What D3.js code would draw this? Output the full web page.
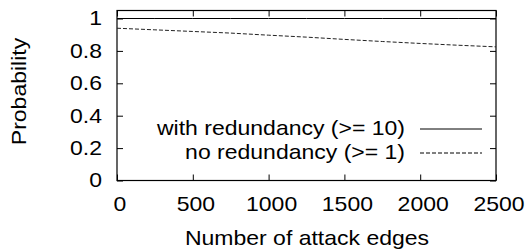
<!DOCTYPE html>
<html><head><meta charset="utf-8">
<script src="https://cdn.jsdelivr.net/npm/d3@7"></script>
<style>body{margin:0;background:#fff}svg{display:block}text{font-family:"Liberation Sans",Arial,sans-serif;fill:#000}</style>
</head><body><svg id="c" width="526" height="251"></svg>
<script>
const xValues = [0, 250, 500, 750, 1000, 1250, 1500, 1750, 2000, 2250, 2500];
const withRedundancy = [1, 1, 1, 1, 1, 1, 1, 1, 1, 1, 1];
const noRedundancy = [0.94, 0.93, 0.92, 0.91, 0.897, 0.885, 0.871, 0.858, 0.846, 0.835, 0.825];
const xTicks = [0, 500, 1000, 1500, 2000, 2500];
const yTicks = [0, 0.2, 0.4, 0.6, 0.8, 1];
const seriesNames = ["with redundancy (>= 10)", "no redundancy (>= 1)"];
const xLabel = "Number of attack edges";
const yLabel = "Probability";

const svg = d3.select("#c");
const L = 117, R = 496, T = 10.5, B = 180.5;
const x = d3.scaleLinear().domain([0, 2500]).range([L, R]);
const y = d3.scaleLinear().domain([0, 1]).range([B, 18.5]);
const fs = 20, SX = 1.15;

// horizontally stretched text helper (for axis labels already placed via x/y attrs)
function stretch(sel) {
  sel.each(function() {
    const t = d3.select(this);
    const xv = +t.attr("x") || 0;
    t.attr("x", xv / SX).attr("transform", `scale(${SX},1)`);
  });
}

// border
svg.append("rect").attr("x", L).attr("y", T).attr("width", R - L).attr("height", B - T)
  .attr("fill", "none").attr("stroke", "#000").attr("stroke-width", 1.2);

// axes with inward ticks
const gB = svg.append("g").attr("transform", `translate(0,${B})`)
  .call(d3.axisBottom(x).tickValues(xTicks).tickSize(-6).tickPadding(16).tickFormat(d3.format("d")));
const gT = svg.append("g").attr("transform", `translate(0,${T})`)
  .call(d3.axisTop(x).tickValues(xTicks).tickSize(-6).tickFormat(""));
const gL = svg.append("g").attr("transform", `translate(${L},0)`)
  .call(d3.axisLeft(y).tickValues(yTicks).tickSize(-6).tickPadding(15).tickFormat(d => d3.format("")(+d.toFixed(1))));
const gR = svg.append("g").attr("transform", `translate(${R},0)`)
  .call(d3.axisRight(y).tickValues(yTicks).tickSize(-6).tickFormat(""));
[gB, gT, gL, gR].forEach(g => {
  g.select(".domain").remove();
  g.selectAll("line").attr("stroke", "#000");
  g.selectAll("text").attr("font-size", fs).attr("font-family", "Liberation Sans, Arial, sans-serif");
});
gB.selectAll("text").attr("x", 2.5);
stretch(gB.selectAll("text"));
stretch(gL.selectAll("text"));

// lines
const line = d3.line().x((d, i) => x(xValues[i])).y(d => y(d));
svg.append("path").datum(withRedundancy).attr("d", line).attr("fill", "none").attr("stroke", "#000").attr("stroke-width", 1);
svg.append("path").datum(noRedundancy).attr("d", line).attr("fill", "none").attr("stroke", "#222").attr("stroke-width", 1).attr("stroke-dasharray", "4,2");

// legend
const legY = [134.5, 158.5];
seriesNames.forEach((n, i) => {
  svg.append("text").attr("transform", `translate(405,${legY[i]}) scale(${SX},1)`).attr("text-anchor", "end").attr("font-size", fs).text(n);
  svg.append("line").attr("x1", 420).attr("x2", 482).attr("y1", legY[i] - 5.5).attr("y2", legY[i] - 5.5)
    .attr("stroke", "#000").attr("stroke-width", 1).attr("stroke-dasharray", i ? "4,2" : null);
});

// axis titles
svg.append("text").attr("transform", `translate(${(L + R) / 2 + 0.5},245) scale(${SX},1)`).attr("text-anchor", "middle").attr("font-size", fs).text(xLabel);
svg.append("text").attr("transform", `translate(26,91.5) rotate(-90) scale(${SX},1)`).attr("text-anchor", "middle").attr("font-size", fs).text(yLabel);
</script></body></html>
